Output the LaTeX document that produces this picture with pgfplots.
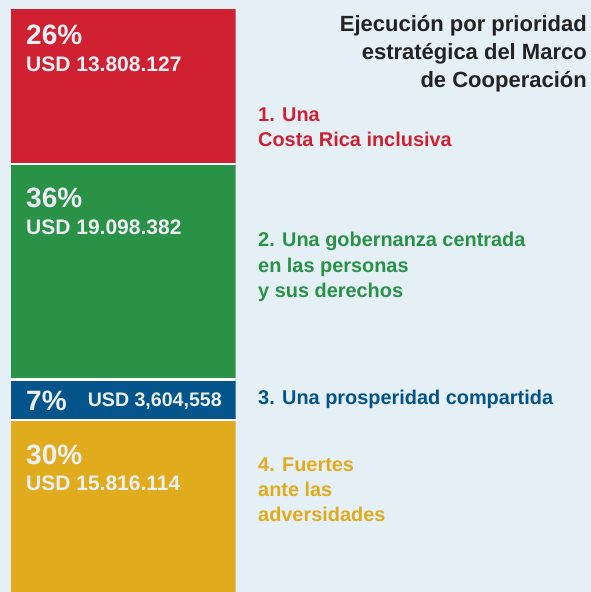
\documentclass[border=0pt]{standalone}
\usepackage{fontspec}
\setmainfont{Liberation Sans}
\usepackage{pgfplots}
\pgfplotsset{compat=1.18}

\definecolor{bg}{HTML}{E4EFF6}
\definecolor{cred}{HTML}{CF2131}
\definecolor{cgreen}{HTML}{2A9246}
\definecolor{cblue}{HTML}{03548A}
\definecolor{cyellow}{HTML}{E0AC1E}
\definecolor{ctext}{HTML}{ECF0F4}
\definecolor{ctitle}{HTML}{222222}

\newcommand{\fpct}{\fontsize{28}{30}\selectfont\bfseries}
\newcommand{\fusd}{\fontsize{21}{24}\selectfont\bfseries}
\newcommand{\fusdsmall}{\fontsize{19.6}{24}\selectfont\bfseries}
\newcommand{\flab}{\fontsize{19.9}{25}\selectfont\bfseries}
\newcommand{\fttl}{\fontsize{22}{28}\selectfont\bfseries}

\begin{document}
\begin{tikzpicture}
\useasboundingbox (0,0) rectangle (591pt,592pt);
\fill[bg] (0,0) rectangle (591pt,592pt);

% execution by strategic priority, in millions of USD (stacked bottom to top);
% the bar is a little wider than the clipped axis so that only the white
% separators between the segments remain
\begin{axis}[
  at={(11pt,-6.4pt)}, anchor=south west,
  scale only axis, width=224.5pt, height=589pt,
  hide axis, clip=true,
  xmin=-0.5, xmax=0.5, ymin=0, ymax=52.216,
  ybar stacked, bar width=227.1pt,
  every axis plot/.append style={draw=white, line width=2.6pt},
]
\addplot[fill=cyellow] coordinates {(0,15.816114)};
\addplot[fill=cblue]   coordinates {(0,3.604558)};
\addplot[fill=cgreen]  coordinates {(0,19.098382)};
\addplot[fill=cred]    coordinates {(0,13.808127)};
\end{axis}

\begin{scope}[every node/.style={inner sep=0pt}]
% labels inside the bar
\node[anchor=base west, text=ctext, font=\fpct] at (26pt,547pt) {26\%};
\node[anchor=base west, text=ctext, font=\fusd] at (26pt,520pt) {USD 13.808.127};
\node[anchor=base west, text=ctext, font=\fpct] at (26pt,384.3pt) {36\%};
\node[anchor=base west, text=ctext, font=\fusd] at (26pt,357pt) {USD 19.098.382};
\node[anchor=base west, text=ctext, font=\fpct] at (26pt,181pt) {7\%};
\node[anchor=base east, text=ctext, font=\fusdsmall] at (222pt,185pt) {USD 3,604,558};
\node[anchor=base west, text=ctext, font=\fpct] at (26pt,127pt) {30\%};
\node[anchor=base west, text=ctext, font=\fusd] at (26pt,101pt) {USD 15.816.114};

% title
\node[anchor=base east, text=ctitle, font=\fttl] at (587pt,560.5pt) {Ejecución por prioridad};
\node[anchor=base east, text=ctitle, font=\fttl] at (587pt,532pt) {estratégica del Marco};
\node[anchor=base east, text=ctitle, font=\fttl] at (587pt,504pt) {de Cooperación};

% priority names
\node[anchor=base west, text=cred, font=\flab] at (258pt,470pt) {1. Una};
\node[anchor=base west, text=cred, font=\flab] at (258pt,445pt) {Costa Rica inclusiva};
\node[anchor=base west, text=cgreen, font=\flab] at (258pt,345.3pt) {2. Una gobernanza centrada};
\node[anchor=base west, text=cgreen, font=\flab] at (258pt,319pt) {en las personas};
\node[anchor=base west, text=cgreen, font=\flab] at (258pt,294pt) {y sus derechos};
\node[anchor=base west, text=cblue, font=\flab] at (258pt,187pt) {3. Una prosperidad compartida};
\node[anchor=base west, text=cyellow, font=\flab] at (258pt,120.3pt) {4. Fuertes};
\node[anchor=base west, text=cyellow, font=\flab] at (258pt,95.3pt) {ante las};
\node[anchor=base west, text=cyellow, font=\flab] at (258pt,70.3pt) {adversidades};
\end{scope}
\end{tikzpicture}
\end{document}
